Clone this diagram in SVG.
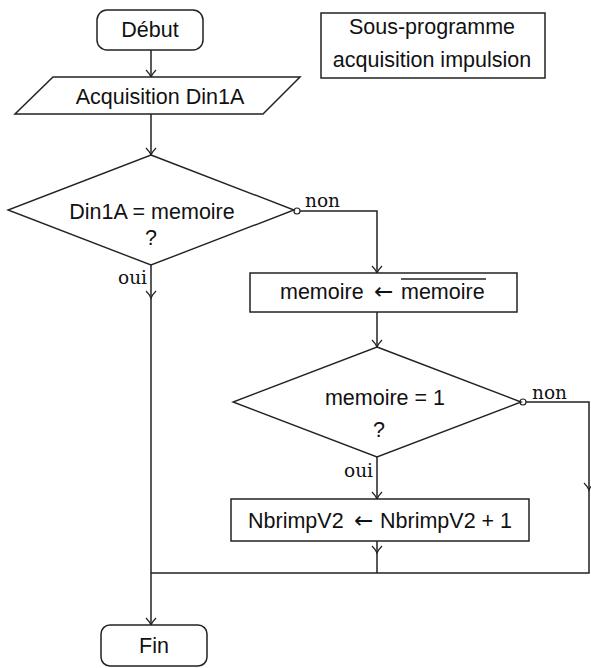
<svg xmlns="http://www.w3.org/2000/svg" width="591" height="668" viewBox="0 0 591 668">
<defs>
<marker id="arr" markerUnits="userSpaceOnUse" markerWidth="16" markerHeight="16" refX="0" refY="0" viewBox="-10 -8 12 16" orient="auto" overflow="visible">
<path d="M-7,-5 Q-3,-1 0,0 Q-3,1 -7,5" fill="none" stroke="#222" stroke-width="1.2"/>
</marker>
</defs>
<style>
.shape{fill:#fff;stroke:#222;stroke-width:1.5}
.dia{fill:#fff;stroke:#222;stroke-width:1.4}
.t{font-family:"Liberation Sans",Arial,sans-serif;font-size:21.5px;fill:#111}
.ar{font-family:"DejaVu Sans",sans-serif;font-size:23px}
.lbl{font-family:"DejaVu Serif","Liberation Serif",serif;font-size:18.5px;fill:#111}
.c{fill:none;stroke:#222;stroke-width:1.5}
.dot{fill:#fff;stroke:#222;stroke-width:1.2}
</style>
<rect width="591" height="668" fill="#fff"/>
<g id="connectors">
<path class="c" d="M151,50 V77" marker-end="url(#arr)"/>
<path class="c" d="M151,114 V155" marker-end="url(#arr)"/>
<path class="c" d="M300,211 H377 V273" marker-end="url(#arr)"/>
<path class="c" d="M151,265 V298" marker-end="url(#arr)"/>
<path class="c" d="M151,298 V625" marker-end="url(#arr)"/>
<path class="c" d="M377,312 V347" marker-end="url(#arr)"/>
<path class="c" d="M377,457 V499" marker-end="url(#arr)"/>
<path class="c" d="M377,541 V553" marker-end="url(#arr)"/>
<path class="c" d="M377,553 V573"/>
<path class="c" d="M526,402 H589 V490" marker-end="url(#arr)"/>
<path class="c" d="M589,490 V573 H151"/>
<circle class="dot" cx="297" cy="211" r="3"/>
<circle class="dot" cx="523" cy="402" r="3"/>
<text class="lbl" x="305" y="207">non</text>
<text class="lbl" x="118" y="284">oui</text>
<text class="lbl" x="532" y="399">non</text>
<text class="lbl" x="344" y="477">oui</text>
</g>
<g id="debut">
<rect class="shape" x="97" y="10" width="106" height="40" rx="10"/>
<text class="t" x="150" y="37" text-anchor="middle">Début</text>
</g>
<g id="titre">
<rect class="shape" x="321" y="13" width="224" height="65"/>
<text class="t" x="432" y="34" text-anchor="middle">Sous-programme</text>
<text class="t" x="432" y="67" text-anchor="middle">acquisition impulsion</text>
</g>
<g id="acquisition">
<polygon class="shape" points="53,77 300,77 263,114 15,114"/>
<text class="t" x="160" y="104" text-anchor="middle">Acquisition Din1A</text>
</g>
<g id="test1">
<polygon class="dia" points="151,155 294,210 151,265 8,210"/>
<text class="t" x="152" y="219" text-anchor="middle">Din1A = memoire</text>
<text class="t" x="151" y="245" text-anchor="middle">?</text>
</g>
<g id="inversion">
<rect class="shape" x="250" y="273" width="267" height="39"/>
<text class="t" x="280" y="299">memoire <tspan class="ar" x="374">←</tspan><tspan x="401">memoire</tspan></text>
<line x1="401" y1="279" x2="486" y2="279" stroke="#222" stroke-width="1.4"/>
</g>
<g id="test2">
<polygon class="dia" points="377,347 521,402 377,457 233,402"/>
<text class="t" x="385" y="405" text-anchor="middle">memoire = 1</text>
<text class="t" x="379" y="437" text-anchor="middle">?</text>
</g>
<g id="increment">
<rect class="shape" x="231" y="499" width="298" height="42"/>
<text class="t" x="248" y="528">NbrimpV2 <tspan class="ar" x="354">←</tspan><tspan x="380">NbrimpV2 + 1</tspan></text>
</g>
<g id="fin">
<rect class="shape" x="101" y="625" width="106" height="41" rx="9"/>
<text class="t" x="154" y="653" text-anchor="middle">Fin</text>
</g>
</svg>
